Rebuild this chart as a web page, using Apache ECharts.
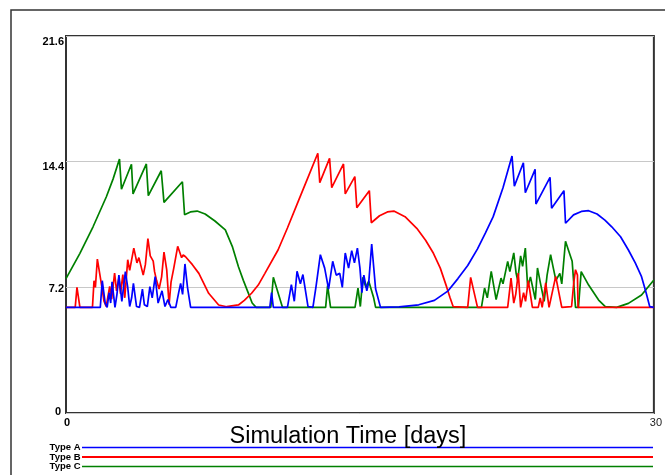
<!DOCTYPE html>
<html>
<head>
<meta charset="utf-8">
<script src="https://cdn.jsdelivr.net/npm/echarts@6/dist/echarts.min.js"></script>
<style>
  html, body { margin: 0; padding: 0; background: #fff; }
  #chart { width: 665px; height: 475px; }
</style>
</head>
<body>
<div id="chart"></div>
<script>
// series names, as in the legend
const seriesNames = ['Type A', 'Type B', 'Type C']
const seriesColors = ['#0000ff', '#ff0000', '#008000']

// axis ticks
const yTicks = [0, 7.2, 14.4, 21.6]
const xRange = [0, 30]

// [day, value]
const typeA = [
  [0, 6.05], [1.75, 6.05], [1.85, 7.58], [2.0, 6.3], [2.1, 6.05], [2.2, 6.9], [2.28, 6.3], [2.35, 7.52],
  [2.5, 6.05], [2.6, 6.8], [2.7, 7.9], [2.85, 6.4], [3.03, 8.1], [3.15, 7.2], [3.25, 6.1], [3.35, 6.6],
  [3.44, 7.43], [3.6, 6.1], [3.75, 6.05], [3.9, 7.1], [4.0, 6.2], [4.15, 6.1], [4.28, 7.24], [4.4, 6.6],
  [4.55, 7.81], [4.7, 6.3], [4.9, 7.0], [5.05, 6.1], [5.2, 6.5], [5.35, 6.05], [5.6, 6.05], [5.75, 6.9],
  [5.85, 7.43], [5.95, 6.8], [6.07, 8.54], [6.2, 7.2], [6.36, 6.05], [10.4, 6.05], [10.49, 6.9], [10.58, 6.05],
  [11.3, 6.05], [11.5, 7.35], [11.65, 6.4], [11.79, 8.12], [11.96, 7.4], [12.09, 7.93], [12.35, 6.1],
  [12.6, 6.05], [12.76, 7.26], [12.98, 9.07], [13.2, 8.3], [13.4, 7.1], [13.61, 8.69], [13.79, 7.9],
  [13.97, 8.0], [14.1, 7.2], [14.25, 9.17], [14.42, 8.3], [14.58, 9.3], [14.72, 8.6], [14.87, 9.45],
  [15.0, 8.3], [15.1, 6.9], [15.2, 7.9], [15.35, 7.0], [15.45, 7.5], [15.6, 9.68], [15.8, 7.1], [16.05, 6.05],
  [17.0, 6.08], [18.0, 6.2], [18.8, 6.45], [19.5, 7.0], [20.0, 7.7], [20.5, 8.45], [21.0, 9.4], [21.4, 10.3],
  [21.8, 11.25], [22.3, 12.9], [22.76, 14.72], [22.88, 13.0], [23.34, 14.34], [23.44, 12.62], [23.94, 13.96],
  [23.98, 11.97], [24.7, 13.5], [24.78, 11.73], [25.41, 12.74], [25.49, 10.87], [25.9, 11.35], [26.3, 11.55],
  [26.67, 11.59], [27.1, 11.4], [27.5, 11.05], [27.85, 10.67], [28.3, 10.1], [28.7, 9.34], [29.05, 8.6],
  [29.37, 7.81], [29.6, 6.9], [29.79, 6.09], [30, 6.05]
]

const typeB = [
  [0, 6.05], [0.47, 6.05], [0.56, 7.2], [0.71, 6.05], [1.35, 6.05], [1.43, 7.58], [1.5, 7.2], [1.6, 8.82],
  [1.77, 7.64], [1.94, 6.4], [2.05, 6.1], [2.23, 7.26], [2.33, 6.52], [2.48, 8.02], [2.58, 7.0], [2.7, 7.74],
  [2.78, 6.83], [2.9, 7.93], [3.0, 6.6], [3.15, 8.78], [3.25, 8.17], [3.46, 9.45], [3.62, 8.6], [3.72, 8.9],
  [3.94, 7.9], [4.05, 8.5], [4.18, 9.99], [4.3, 9.0], [4.45, 8.7], [4.52, 8.1], [4.62, 7.6], [4.75, 7.1],
  [4.88, 7.8], [5.0, 9.22], [5.14, 8.2], [5.26, 6.2], [5.36, 7.5], [5.5, 8.3], [5.7, 9.55], [5.9, 8.9],
  [5.98, 9.05], [6.1, 8.95], [6.45, 8.5], [6.78, 8.0], [7.28, 6.86], [7.79, 6.19], [8.2, 6.09], [8.8, 6.19],
  [9.1, 6.45], [9.47, 6.86], [9.81, 7.33], [10.15, 8.0], [10.82, 9.34], [11.3, 10.6], [11.84, 12.1],
  [12.35, 13.5], [12.85, 14.88], [12.95, 13.2], [13.45, 14.59], [13.56, 12.91], [14.16, 14.27], [14.25, 12.55],
  [14.74, 13.54], [14.84, 11.76], [15.48, 12.74], [15.58, 10.9], [16.0, 11.3], [16.4, 11.52], [16.73, 11.57],
  [17.3, 11.25], [17.9, 10.58], [18.35, 9.9], [18.75, 9.15], [19.1, 8.3], [19.42, 7.24], [19.6, 6.6],
  [19.76, 6.09], [20.5, 6.05], [20.65, 7.77], [21.0, 6.05], [22.54, 6.05], [22.71, 7.73], [22.85, 6.3],
  [22.95, 6.8], [23.08, 8.02], [23.2, 6.05], [23.35, 6.9], [23.45, 6.4], [23.59, 7.58], [23.8, 6.05],
  [24.1, 6.05], [24.2, 6.6], [24.3, 6.05], [24.48, 7.45], [24.65, 6.05], [24.99, 7.83], [25.3, 6.05],
  [25.8, 6.1], [25.91, 7.45], [26.0, 8.21], [26.1, 7.9], [26.13, 6.05], [30, 6.05]
]

const typeC = [
  [0, 7.7], [0.71, 9.15], [1.38, 10.67], [2.06, 12.39], [2.4, 13.4], [2.73, 14.55], [2.83, 12.82],
  [3.34, 14.25], [3.42, 12.55], [4.1, 14.27], [4.2, 12.45], [4.86, 13.88], [5.0, 12.07], [5.94, 13.25],
  [6.05, 11.36], [6.35, 11.52], [6.69, 11.57], [7.1, 11.4], [7.6, 11.0], [8.13, 10.49], [8.5, 9.5],
  [8.8, 8.38], [9.05, 7.6], [9.3, 6.88], [9.5, 6.3], [9.7, 6.05], [10.45, 6.05], [10.58, 7.78], [11.05, 6.05],
  [13.25, 6.05], [13.35, 7.3], [13.5, 6.05], [14.75, 6.05], [14.9, 7.16], [15.02, 6.1], [15.15, 7.78],
  [15.3, 7.2], [15.45, 7.55], [15.7, 6.6], [15.8, 6.05], [21.2, 6.05], [21.36, 7.16], [21.5, 6.6],
  [21.7, 8.12], [21.95, 6.5], [22.2, 7.73], [22.3, 7.4], [22.54, 8.69], [22.65, 8.1], [22.85, 9.17],
  [22.97, 8.0], [23.05, 7.6], [23.2, 9.0], [23.3, 8.4], [23.44, 9.45], [23.56, 7.2], [23.7, 7.8],
  [23.95, 6.5], [24.06, 8.31], [24.2, 7.5], [24.4, 6.4], [24.55, 7.9], [24.73, 9.07], [24.85, 8.4],
  [25.0, 7.6], [25.2, 8.0], [25.3, 7.4], [25.49, 9.84], [25.65, 9.3], [25.83, 8.69], [26.0, 6.05],
  [26.15, 6.05], [26.29, 8.1], [26.67, 7.33], [27.18, 6.47], [27.52, 6.09], [28.1, 6.05], [28.7, 6.28],
  [29.37, 6.76], [30, 7.62]
]

const chart = echarts.init(document.getElementById('chart'), null, { renderer: 'canvas' })

const font = 'Arial, "Liberation Sans", sans-serif'

function line(name, data, color, width) {
  return {
    name: name,
    type: 'line',
    data: data,
    symbol: 'none',
    lineStyle: { color: color, width: width },
    itemStyle: { color: color },
    animation: false
  }
}

// legend drawn by hand: label on the left, long coloured line on the right
const legendRows = [447.5, 457, 466.5]
const legendWidths = [1.4, 2, 1.6]
const legendGraphic = []
seriesNames.forEach(function (n, i) {
  legendGraphic.push({
    type: 'text',
    x: 80.5,
    y: legendRows[i],
    style: {
      text: n, fill: '#000',
      font: 'bold 9.5px ' + font,
      textAlign: 'right', textVerticalAlign: 'middle'
    },
    silent: true
  })
  legendGraphic.push({
    type: 'line',
    shape: { x1: 82, y1: legendRows[i], x2: 653, y2: legendRows[i] },
    style: { stroke: seriesColors[i], lineWidth: legendWidths[i] },
    silent: true
  })
})

// y label nudges so they sit where the original put them
const yRich = {
  t0: { padding: [0, 3, 2, 0] },
  t1: { padding: [4, 0, 0, 0] },
  t2: { padding: [10, 0, 0, 0] },
  t3: { padding: [12, 0, 0, 0] }
}

const option = {
  backgroundColor: '#fff',
  animation: false,
  graphic: [{
    // outer frame
    type: 'rect',
    shape: { x: 11, y: 10, width: 700, height: 500 },
    style: { fill: 'none', stroke: '#333', lineWidth: 1.5 },
    silent: true
  }].concat(legendGraphic),
  grid: {
    left: 66, top: 36, right: 6, bottom: 62,
    show: true,
    borderColor: '#333',
    borderWidth: 2
  },
  xAxis: {
    type: 'value',
    min: xRange[0],
    max: xRange[1],
    interval: 30,
    name: 'Simulation Time [days]',
    nameLocation: 'middle',
    nameGap: 12,
    nameMoveOverlap: false,
    nameTextStyle: { fontFamily: font, fontSize: 23.5, color: '#000', padding: [0, 24, 0, 0] },
    axisLine: { show: false },
    axisTick: { show: false },
    splitLine: { show: false },
    axisLabel: {
      margin: 4,
      fontFamily: font,
      color: '#000',
      formatter: function (v) { return v === 0 ? '{b|0}' : '{n|' + v + '}' },
      rich: {
        b: { fontFamily: font, fontWeight: 'bold', fontSize: 11, color: '#000', padding: [0, 0, 0, 2] },
        n: { fontFamily: font, fontSize: 11, color: '#222', padding: [0, 0, 0, 4] }
      }
    }
  },
  yAxis: {
    type: 'value',
    min: yTicks[0],
    max: yTicks[3],
    interval: 7.2,
    axisLine: { show: false },
    axisTick: { show: false },
    splitLine: { show: true, lineStyle: { color: '#c8c8c8', width: 1 } },
    axisLabel: {
      margin: 2,
      fontFamily: font,
      fontWeight: 'bold',
      fontSize: 11,
      color: '#000',
      formatter: function (v) {
        const i = yTicks.indexOf(v)
        return i >= 0 ? '{t' + i + '|' + v + '}' : ''
      },
      rich: yRich
    }
  },
  series: [
    line('Type C', typeC, seriesColors[2], 1.7),
    line('Type B', typeB, seriesColors[1], 1.7),
    line('Type A', typeA, seriesColors[0], 1.7)
  ]
}

chart.setOption(option)
</script>
</body>
</html>
